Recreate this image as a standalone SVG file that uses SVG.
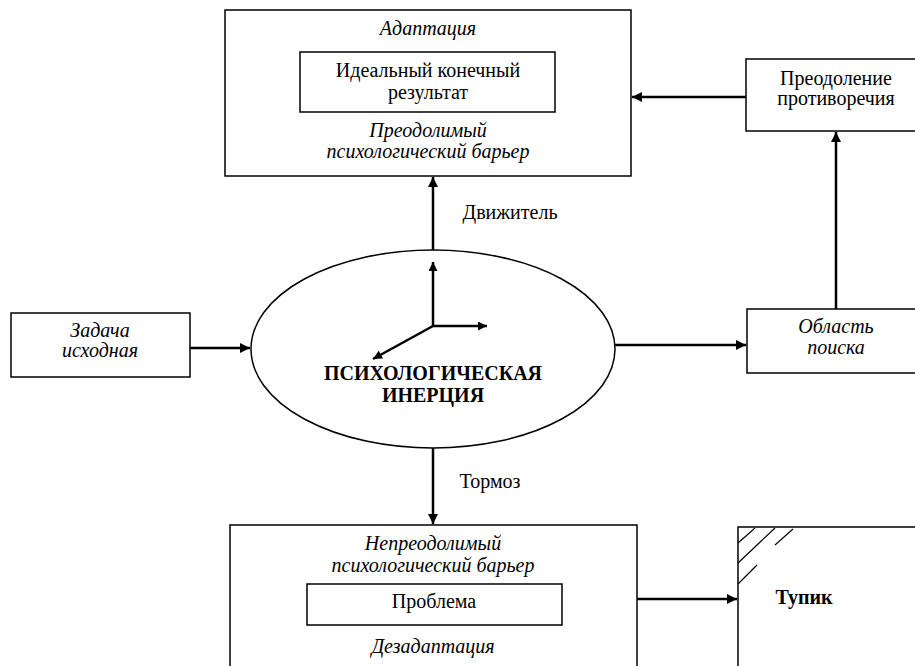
<svg xmlns="http://www.w3.org/2000/svg" width="915" height="666" viewBox="0 0 915 666">
<defs>
<marker id="ah" viewBox="0 0 10 10" refX="10" refY="5" markerWidth="11" markerHeight="10" markerUnits="userSpaceOnUse" orient="auto">
<path d="M0,0 L10,5 L0,10 z" fill="#000"/>
</marker>
<marker id="ahs" viewBox="0 0 10 10" refX="10" refY="5" markerWidth="10" markerHeight="9" markerUnits="userSpaceOnUse" orient="auto">
<path d="M0,0 L10,5 L0,10 z" fill="#000"/>
</marker>
<style>
.box{fill:#fff;stroke:#000;stroke-width:1.5}
text{font-family:"Liberation Serif","Times New Roman","DejaVu Serif",serif}
.t{font-size:20px;fill:#000;text-anchor:middle}
.i{font-style:italic}
.b{font-weight:bold}
.c{stroke:#000;stroke-width:2.5;fill:none}
.h{stroke:#000;stroke-width:1.2;fill:none}
</style>
</defs>
<rect width="915" height="666" fill="#fff"/>

<g id="connectors">
<line class="c" x1="433" y1="250" x2="433" y2="177" marker-end="url(#ah)"/>
<line class="c" x1="746" y1="97" x2="632" y2="97" marker-end="url(#ah)"/>
<line class="c" x1="836" y1="309" x2="836" y2="132" marker-end="url(#ah)"/>
<line class="c" x1="190" y1="348" x2="250" y2="348" marker-end="url(#ah)"/>
<line class="c" x1="615" y1="345" x2="746" y2="345" marker-end="url(#ah)"/>
<line class="c" x1="433" y1="448" x2="433" y2="524" marker-end="url(#ah)"/>
<line class="c" x1="637" y1="599" x2="737" y2="599" marker-end="url(#ah)"/>
<text class="t" x="510" y="219">Движитель</text>
<text class="t" x="490" y="488">Тормоз</text>
</g>

<g id="adaptation">
<rect class="box" x="225" y="10" width="406" height="166"/>
<text class="t i" x="428" y="35">Адаптация</text>
<rect class="box" x="300" y="52" width="255" height="60"/>
<text class="t" x="428" y="77">Идеальный конечный</text>
<text class="t" x="428" y="99">результат</text>
<text class="t i" x="428" y="137">Преодолимый</text>
<text class="t i" x="428" y="158">психологический барьер</text>
</g>

<g id="contradiction">
<rect class="box" x="746" y="59" width="175" height="72"/>
<text class="t" x="836" y="85">Преодоление</text>
<text class="t" x="836" y="105">противоречия</text>
</g>

<g id="task">
<rect class="box" x="11" y="313" width="179" height="64"/>
<text class="t i" x="100" y="337">Задача</text>
<text class="t i" x="100" y="357">исходная</text>
</g>

<g id="inertia">
<ellipse cx="433" cy="349" rx="182" ry="99" fill="#fff" stroke="#000" stroke-width="1.5"/>
<line class="c" x1="433" y1="326" x2="433" y2="262" marker-end="url(#ahs)"/>
<line class="c" x1="433" y1="326" x2="487" y2="326" marker-end="url(#ahs)"/>
<line class="c" x1="433" y1="326" x2="373" y2="359" marker-end="url(#ahs)"/>
<text class="t b" x="433" y="380">ПСИХОЛОГИЧЕСКАЯ</text>
<text class="t b" x="433" y="402">ИНЕРЦИЯ</text>
</g>

<g id="search">
<rect class="box" x="747" y="309" width="175" height="64"/>
<text class="t i" x="836" y="333">Область</text>
<text class="t i" x="836" y="354">поиска</text>
</g>

<g id="disadaptation">
<rect class="box" x="230" y="525" width="407" height="160"/>
<text class="t i" x="433" y="550">Непреодолимый</text>
<text class="t i" x="433" y="572">психологический барьер</text>
<rect class="box" x="307" y="584" width="255" height="41"/>
<text class="t" x="434" y="608">Проблема</text>
<text class="t i" x="433" y="653">Дезадаптация</text>
</g>

<g id="deadend">
<path class="box" d="M738,680 L738,527 L925,527"/>
<line class="h" x1="738" y1="543" x2="755" y2="528"/>
<line class="h" x1="738" y1="563" x2="775" y2="528"/>
<line class="h" x1="775" y1="545" x2="793" y2="529"/>
<line class="h" x1="738" y1="584" x2="757" y2="565"/>
<text class="t b" x="804" y="604">Тупик</text>
</g>
</svg>
